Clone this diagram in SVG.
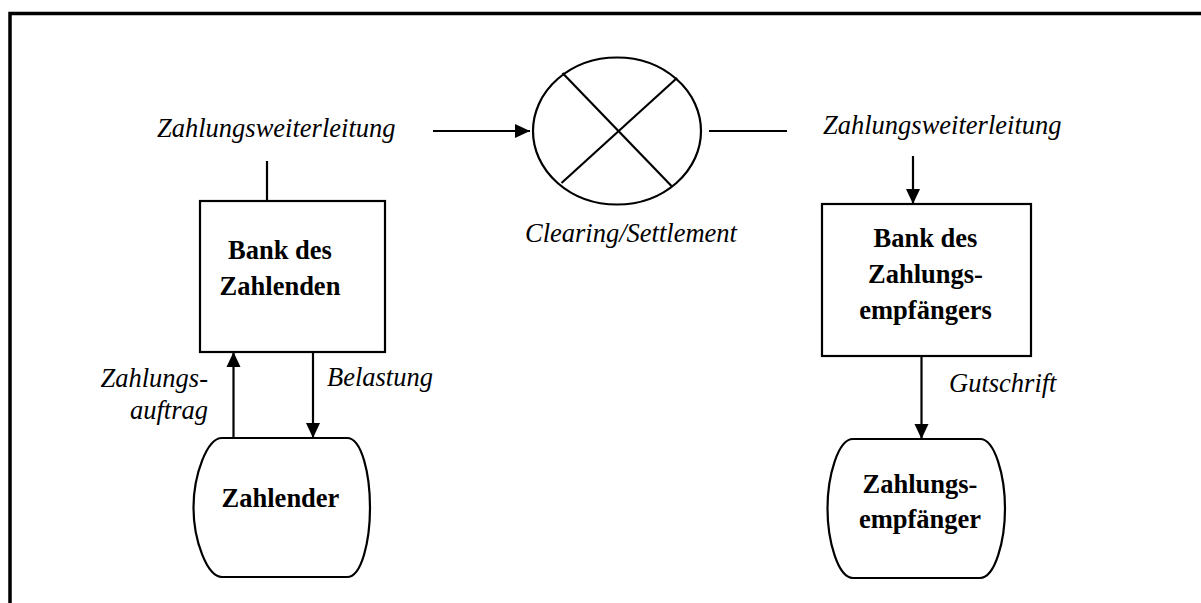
<svg xmlns="http://www.w3.org/2000/svg" width="1201" height="603" viewBox="0 0 1201 603">
  <style>
    .lbl { font-family: "Liberation Serif", "Times New Roman", Times, "DejaVu Serif", serif; font-size: 26.5px; font-style: italic; fill: #000; }
    .name { font-family: "Liberation Serif", "Times New Roman", Times, "DejaVu Serif", serif; font-size: 26.5px; font-weight: bold; fill: #000; text-anchor: middle; }
    .shape { fill: #fff; stroke: #000; stroke-width: 2.2; }
    .conn { stroke: #000; stroke-width: 2.2; fill: none; }
  </style>
  <defs>
    <marker id="arrow" markerUnits="userSpaceOnUse" markerWidth="16" markerHeight="16" viewBox="0 0 16 16" refX="15" refY="8" orient="auto">
      <path d="M0,1 L15,8 L0,15 Z" fill="#000"/>
    </marker>
  </defs>

  <rect width="1201" height="603" fill="#fff"/>

  <!-- outer frame (top and left edges) -->
  <path d="M10,603 V13.5 H1201" fill="none" stroke="#000" stroke-width="3.5"/>

  <!-- connectors -->
  <g id="connectors">
    <line class="conn" x1="267" y1="161" x2="267" y2="201"/>
    <line class="conn" x1="433" y1="131" x2="530" y2="131" marker-end="url(#arrow)"/>
    <line class="conn" x1="709" y1="131" x2="787" y2="131"/>
    <line class="conn" x1="913" y1="156" x2="913" y2="204" marker-end="url(#arrow)"/>
    <line class="conn" x1="233.5" y1="438" x2="233.5" y2="352" marker-end="url(#arrow)"/>
    <line class="conn" x1="313" y1="352" x2="313" y2="438" marker-end="url(#arrow)"/>
    <line class="conn" x1="921.5" y1="356" x2="921.5" y2="439" marker-end="url(#arrow)"/>
  </g>

  <!-- connector labels -->
  <g id="labels">
    <text class="lbl" x="157" y="137">Zahlungsweiterleitung</text>
    <text class="lbl" x="823" y="134">Zahlungsweiterleitung</text>
    <text class="lbl" x="525" y="242">Clearing/Settlement</text>
    <text class="lbl" x="208" y="387" text-anchor="end">Zahlungs-</text>
    <text class="lbl" x="208" y="419" text-anchor="end">auftrag</text>
    <text class="lbl" x="327" y="386">Belastung</text>
    <text class="lbl" x="949" y="392">Gutschrift</text>
  </g>

  <!-- clearing / settlement switch -->
  <g id="clearing">
    <ellipse class="shape" cx="617" cy="131" rx="84" ry="73.5"/>
    <line class="conn" x1="562.5" y1="73" x2="671.5" y2="186"/>
    <line class="conn" x1="677" y1="78" x2="561.5" y2="183"/>
  </g>

  <g id="bank-payer">
    <rect class="shape" x="200" y="201" width="185" height="151"/>
    <text class="name" x="280" y="259">Bank des</text>
    <text class="name" x="280" y="295">Zahlenden</text>
  </g>

  <g id="bank-payee">
    <rect class="shape" x="822" y="204" width="209" height="152"/>
    <text class="name" x="925.5" y="247">Bank des</text>
    <text class="name" x="925.5" y="283">Zahlungs-</text>
    <text class="name" x="925.5" y="319">empfängers</text>
  </g>

  <g id="payer">
    <path class="shape" d="M222,438 H347 C362,438 370,475 370,507.5 C370,540 362,577 347,577 H222 C207,577 193.5,540 193.5,507.5 C193.5,475 207,438 222,438 Z"/>
    <text class="name" x="280.5" y="507">Zahlender</text>
  </g>

  <g id="payee">
    <path class="shape" d="M853,439 H980 C995,439 1005,476 1005,508.5 C1005,541 995,578 980,578 H853 C838,578 827.5,541 827.5,508.5 C827.5,476 838,439 853,439 Z"/>
    <text class="name" x="920" y="493">Zahlungs-</text>
    <text class="name" x="920" y="528">empfänger</text>
  </g>
</svg>
